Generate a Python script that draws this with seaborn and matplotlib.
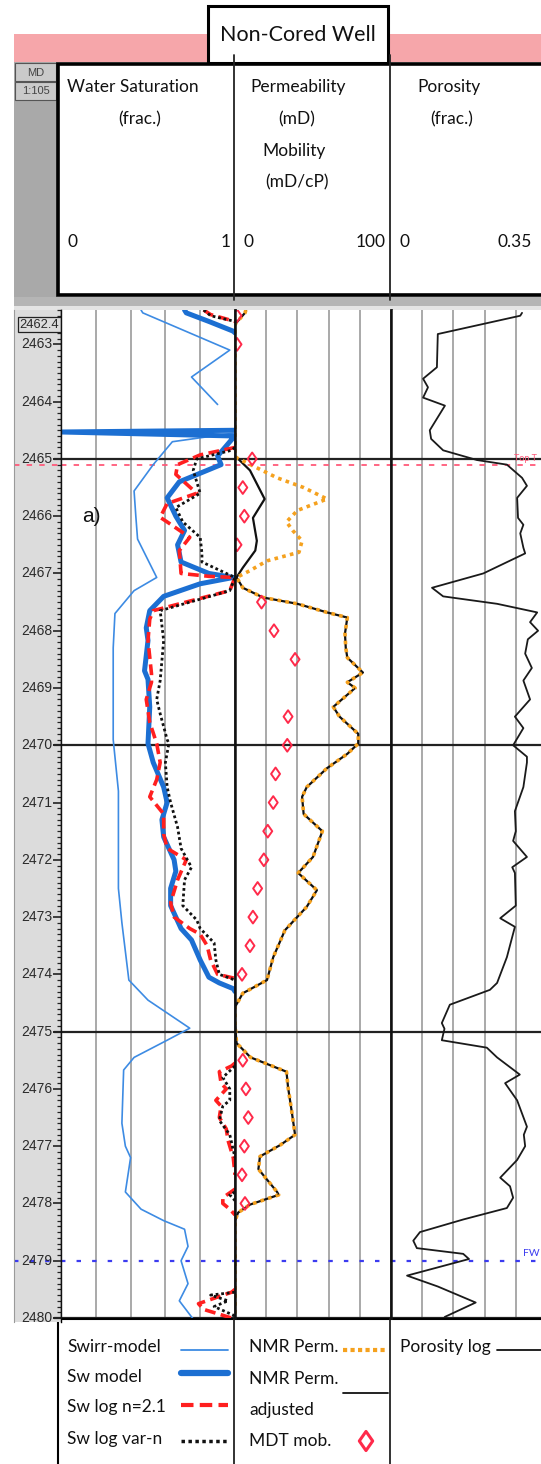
import numpy as np
import pandas as pd
import matplotlib
matplotlib.use("Agg")
import matplotlib.pyplot as plt
import matplotlib.transforms as mtransforms
from matplotlib.patches import Rectangle
from matplotlib.path import Path
from matplotlib.ticker import MultipleLocator
import seaborn as sns

# ---------------- data ----------------
# Swirr-model (thin blue), two segments
swirr_a_depth = [2462.40, 2462.45, 2463.10, 2463.57, 2464.05]
swirr_a_val = [0.46, 0.47, 0.97, 0.75, 0.90]
swirr_b_depth = [2464.55, 2464.70, 2465.10, 2465.56, 2466.00, 2466.40, 2467.07, 2467.30, 2467.70,
                 2468.30, 2469.90, 2470.80, 2472.50, 2473.10, 2474.10, 2474.45, 2474.94, 2475.15,
                 2475.45, 2475.67, 2476.60, 2477.00, 2477.20, 2477.80, 2478.10, 2478.30, 2478.45,
                 2478.75, 2479.00, 2479.40, 2479.70, 2480.10]
swirr_b_val = [0.99, 0.64, 0.53, 0.42, 0.43, 0.44, 0.55, 0.42, 0.31,
               0.30, 0.30, 0.33, 0.33, 0.35, 0.39, 0.50, 0.74, 0.61,
               0.42, 0.36, 0.35, 0.37, 0.40, 0.37, 0.46, 0.59, 0.71,
               0.73, 0.69, 0.73, 0.68, 0.78]

# Sw model (thick blue)
swm_depth = [2462.40, 2462.45, 2462.60, 2462.77, 2462.80, 2464.50, 2464.53, 2464.60, 2464.63,
             2464.95, 2465.10, 2465.40, 2465.68, 2466.00, 2466.25, 2466.50, 2466.80, 2467.00,
             2467.07, 2467.18, 2467.40, 2467.65, 2467.95, 2468.17, 2468.70, 2468.85, 2469.33,
             2469.97, 2470.30, 2470.73, 2471.00, 2471.30, 2471.60, 2472.00, 2472.20, 2472.50,
             2472.80, 2473.20, 2473.40, 2473.75, 2474.05, 2474.15, 2474.25, 2474.30, 2480.00]
swm_val = [0.71, 0.72, 0.85, 0.99, 1.00, 1.00, 0.00, 1.00, 0.99,
           0.90, 0.92, 0.68, 0.61, 0.66, 0.71, 0.67, 0.69, 0.85,
           0.99, 0.80, 0.59, 0.51, 0.49, 0.50, 0.48, 0.50, 0.51,
           0.50, 0.53, 0.59, 0.61, 0.58, 0.59, 0.65, 0.66, 0.63,
           0.63, 0.69, 0.75, 0.80, 0.85, 0.91, 0.99, 1.00, 1.00]

# Sw log n=2.1 (red dashed)
swn_depth = [2462.40, 2462.48, 2462.60, 2464.80, 2464.93, 2465.10, 2465.27, 2465.60, 2465.78,
             2466.02, 2466.10, 2466.37, 2466.60, 2467.00, 2467.05, 2467.07, 2467.30, 2467.65,
             2467.80, 2468.17, 2468.75, 2468.90, 2469.20, 2469.60, 2469.97, 2470.30, 2470.60,
             2470.90, 2471.20, 2471.55, 2471.80, 2472.00, 2472.35, 2472.75, 2473.00, 2473.20,
             2473.30, 2473.50, 2473.75, 2474.00, 2474.07, 2475.55, 2475.60, 2475.70, 2475.90,
             2476.00, 2476.20, 2476.30, 2476.50, 2476.70, 2476.90, 2477.20, 2477.50, 2477.75,
             2477.90, 2478.00, 2478.10, 2478.20, 2479.50, 2479.55, 2479.75, 2479.85, 2480.00]
swn_val = [0.82, 0.86, 1.00, 1.00, 0.80, 0.67, 0.66, 0.78, 0.61,
           0.57, 0.61, 0.74, 0.68, 0.69, 0.85, 1.00, 0.97, 0.53,
           0.51, 0.50, 0.52, 0.52, 0.49, 0.51, 0.55, 0.57, 0.55,
           0.51, 0.59, 0.59, 0.61, 0.72, 0.67, 0.63, 0.65, 0.74,
           0.80, 0.84, 0.86, 0.90, 1.00, 1.00, 0.98, 0.91, 0.92,
           0.95, 0.89, 0.92, 0.91, 0.95, 0.96, 0.99, 1.00, 1.00,
           0.93, 0.93, 0.97, 1.00, 1.00, 0.98, 0.79, 0.82, 0.98]

# Sw log var-n (black dotted)
swv_depth = [2462.40, 2462.50, 2462.60, 2464.80, 2464.85, 2465.00, 2465.20, 2465.60, 2465.85,
             2466.10, 2466.37, 2466.65, 2466.80, 2467.07, 2467.30, 2467.65, 2468.17, 2468.87,
             2469.20, 2469.45, 2469.90, 2469.97, 2470.30, 2470.73, 2471.00, 2471.43, 2471.80,
             2472.13, 2472.35, 2472.80, 2473.05, 2473.20, 2473.45, 2473.75, 2474.00, 2474.10,
             2475.60, 2475.80, 2476.00, 2476.20, 2476.30, 2476.55, 2476.80, 2477.20, 2477.80,
             2477.85, 2477.95, 2479.55, 2479.60, 2479.70, 2479.80, 2479.95, 2480.00]
swv_val = [0.82, 0.86, 1.00, 1.00, 0.98, 0.78, 0.76, 0.80, 0.66,
           0.70, 0.80, 0.81, 0.81, 1.00, 0.97, 0.57, 0.59, 0.57,
           0.55, 0.57, 0.61, 0.62, 0.60, 0.61, 0.63, 0.67, 0.69,
           0.75, 0.71, 0.70, 0.78, 0.80, 0.88, 0.89, 0.91, 1.00,
           1.00, 0.93, 0.97, 0.97, 0.93, 0.91, 0.97, 1.00, 1.00,
           0.97, 1.00, 1.00, 0.86, 0.96, 0.88, 0.99, 1.00]

# NMR Perm. adjusted (black thin)
perm_adj_depth = [2462.40, 2462.45, 2462.65, 2464.95, 2464.98, 2465.20, 2465.70, 2466.03, 2466.43,
                  2466.60, 2466.90, 2467.07, 2467.25, 2467.42, 2467.53, 2467.68, 2467.77, 2468.05,
                  2468.30, 2468.47, 2468.73, 2468.90, 2469.00, 2469.33, 2469.50, 2469.80, 2469.97,
                  2470.15, 2470.40, 2470.73, 2470.90, 2471.20, 2471.50, 2471.95, 2472.23, 2472.53,
                  2472.82, 2473.23, 2473.70, 2474.10, 2474.33, 2474.57, 2474.85, 2475.20, 2475.45,
                  2475.70, 2475.97, 2476.42, 2476.80, 2476.98, 2477.18, 2477.40, 2477.80, 2477.85,
                  2478.02, 2478.16, 2478.30, 2480.00]
perm_adj_val = [7.0, 6.4, 0.0, 0.0, 1.3, 9.6, 19.0, 11.5, 14.0,
                13.0, 5.0, 1.0, 5.0, 18.0, 40.0, 59.0, 72.0, 70.5,
                71.0, 72.0, 82.0, 72.0, 77.0, 63.0, 67.0, 79.0, 79.0,
                72.0, 59.0, 46.0, 43.0, 44.0, 56.0, 50.0, 40.5, 52.5,
                46.0, 32.0, 24.5, 20.5, 5.0, 0.0, 0.0, 1.0, 10.0,
                33.0, 34.0, 36.5, 38.5, 29.0, 16.0, 15.0, 27.0, 28.0,
                9.6, 2.0, 0.0, 0.0]

# NMR Perm. (orange dotted): differs from adjusted only between 2465 and 2467
perm_nmr_top_depth = [2462.40, 2462.45, 2462.65, 2464.95, 2464.98, 2465.33, 2465.50, 2465.70, 2465.90,
                      2466.10, 2466.25, 2466.43, 2466.63, 2466.78, 2466.95, 2467.07]
perm_nmr_top_val = [7.0, 6.4, 0.0, 0.0, 1.0, 27.0, 44.0, 59.0, 40.0,
                    33.0, 37.0, 43.0, 41.0, 20.5, 9.6, 1.0]

# MDT mobility (open diamonds)
mdt_depth = [2462.5, 2463.0, 2465.0, 2465.5, 2466.0, 2466.5, 2467.5, 2468.0, 2468.5, 2469.5,
             2470.0, 2470.5, 2471.0, 2471.5, 2472.0, 2472.5, 2473.0, 2473.5, 2474.0, 2475.5,
             2476.0, 2476.5, 2477.0, 2477.5, 2478.0]
mdt_val = [1.3, 1.3, 11.0, 5.0, 6.0, 1.3, 17.0, 25.0, 38.5, 34.0,
           33.5, 26.0, 24.5, 21.0, 18.5, 14.5, 11.5, 9.6, 4.5, 5.0,
           7.0, 8.5, 6.0, 4.5, 6.4]

# Porosity log
por_depth = [2462.45, 2462.50, 2462.82, 2463.40, 2463.60, 2463.75, 2463.93, 2464.07, 2464.50,
             2464.65, 2464.85, 2465.02, 2465.10, 2465.33, 2465.47, 2465.68, 2466.03, 2466.15,
             2466.30, 2466.55, 2466.65, 2467.00, 2467.25, 2467.40, 2467.53, 2467.68, 2467.85,
             2468.00, 2468.15, 2468.40, 2468.65, 2468.87, 2469.20, 2469.50, 2469.70, 2470.00,
             2470.20, 2470.30, 2470.73, 2471.15, 2471.50, 2471.67, 2471.95, 2472.13, 2472.23,
             2472.80, 2473.02, 2473.17, 2473.70, 2474.15, 2474.27, 2474.53, 2474.85, 2474.95,
             2475.15, 2475.28, 2475.45, 2475.75, 2475.90, 2476.20, 2476.66, 2476.80, 2477.00,
             2477.24, 2477.55, 2477.70, 2477.90, 2478.08, 2478.28, 2478.50, 2478.65, 2478.78,
             2478.88, 2478.97, 2479.26, 2479.45, 2479.73, 2479.98, 2480.10]
por_val = [0.294, 0.290, 0.105, 0.103, 0.072, 0.083, 0.072, 0.121, 0.087,
           0.090, 0.117, 0.193, 0.260, 0.294, 0.305, 0.283, 0.285, 0.297,
           0.290, 0.297, 0.301, 0.207, 0.092, 0.117, 0.238, 0.328, 0.312,
           0.330, 0.307, 0.301, 0.316, 0.297, 0.312, 0.278, 0.297, 0.274,
           0.305, 0.305, 0.297, 0.278, 0.280, 0.274, 0.305, 0.272, 0.278,
           0.280, 0.245, 0.278, 0.260, 0.238, 0.222, 0.132, 0.114, 0.120,
           0.114, 0.215, 0.238, 0.289, 0.256, 0.283, 0.305, 0.298, 0.301,
           0.283, 0.245, 0.267, 0.274, 0.260, 0.162, 0.065, 0.050, 0.058,
           0.162, 0.175, 0.036, 0.105, 0.190, 0.121, 0.110]

md_labels = ["2462.4"] + [str(d) for d in range(2463, 2481)]
md_major = list(range(2463, 2481))
depth_lines = [2465, 2470, 2475, 2480]
top_marker_depth = 2465.1
fwl_depth = 2479.0

sw_range = (0, 1)
perm_range = (0, 100)
por_range = (0, 0.35)
depth_top, depth_bot = 2462.4, 2480.0


def split_at_edge(depth, val, edge):
    """Break a curve wherever two consecutive samples both sit on the track edge."""
    df = pd.DataFrame({"depth": depth, "val": val})
    on_edge = pd.Series(np.isclose(df["val"].to_numpy(), edge))
    brk = on_edge & on_edge.shift(1, fill_value=False)
    df["seg"] = brk.cumsum().to_numpy()
    off = ~on_edge
    keep = off.groupby(df["seg"]).transform("any").to_numpy()
    return df[keep].reset_index(drop=True)


# ---------------- style ----------------
sns.set_style("white")
plt.rcParams["font.family"] = ["Lato", "DejaVu Sans"]

W, H = 541, 1464
fig = plt.figure(figsize=(W / 100, H / 100), dpi=100)
fig.patch.set_facecolor("white")


def px_axes(x0, y0, x1, y1, **kw):
    return fig.add_axes([x0 / W, 1 - y1 / H, (x1 - x0) / W, (y1 - y0) / H], **kw)


# overlay for header / legend decoration (pixel coordinates)
ov = px_axes(0, 0, W, H, zorder=0)
ov.set_xlim(0, W)
ov.set_ylim(H, 0)
ov.axis("off")

Y0, Y1 = 310, 1318
X_MD0, X_T1, X_T2, X_T3, X_T4 = 14, 61, 235, 391, 547

# pink band and title
ov.add_patch(Rectangle((14, 34), W, 28, facecolor="#f6a6aa", edgecolor="none"))
ov.add_patch(Rectangle((208, 6), 180, 57, facecolor="white", edgecolor="black", lw=2.2, zorder=3))
ov.text(298, 35, "Non-Cored Well", ha="center", va="center", fontsize=15.5, color="#111", zorder=4)

# header left column
ov.add_patch(Rectangle((14, 62), 43, 235, facecolor="#a9a9a9", edgecolor="none"))
for (yy, lab) in [(63, "MD"), (82, "1:105")]:
    ov.add_patch(Rectangle((15, yy), 41, 18, facecolor="#cacaca", edgecolor="#555", lw=0.8))
    ov.text(35.5, yy + 9.5, lab, ha="center", va="center", fontsize=8,
            family=["Liberation Sans", "DejaVu Sans"], color="#444")

# header box
ov.add_patch(Rectangle((58, 64), 520, 231, facecolor="white", edgecolor="black", lw=2.6, zorder=2))
for xd in (233.5, 389.5):
    ov.plot([xd, xd], [55, 300], color="#222", lw=1.3, zorder=3)

# gray strip between header and tracks
ov.add_patch(Rectangle((14, 297), W, 10, facecolor="#b5b5b5", edgecolor="none"))
ov.add_patch(Rectangle((14, 306), W, 4, facecolor="#e4e4e4", edgecolor="none"))

hdr_kw = dict(ha="center", va="center", fontsize=12.5, color="#111", zorder=4)
ov.text(133, 87, "Water Saturation", **hdr_kw)
ov.text(140, 119, "(frac.)", **hdr_kw)
ov.text(298, 87, "Permeability", **hdr_kw)
ov.text(297, 119, "(mD)", **hdr_kw)
ov.text(294, 151, "Mobility", **hdr_kw)
ov.text(297, 182, "(mD/cP)", **hdr_kw)
ov.text(449, 87, "Porosity", **hdr_kw)
ov.text(452, 119, "(frac.)", **hdr_kw)
sc_kw = dict(va="center", fontsize=12.5, color="#111", zorder=4)
ov.text(67, 242, f"{sw_range[0]}", ha="left", **sc_kw)
ov.text(231, 242, f"{sw_range[1]}", ha="right", **sc_kw)
ov.text(244, 242, f"{perm_range[0]}", ha="left", **sc_kw)
ov.text(386, 242, f"{perm_range[1]}", ha="right", **sc_kw)
ov.text(399, 242, f"{por_range[0]}", ha="left", **sc_kw)
ov.text(532, 242, f"{por_range[1]}", ha="right", **sc_kw)

# legend box
ov.add_patch(Rectangle((58, 1319), 520, 160, facecolor="white", edgecolor="black", lw=1.5, zorder=1))
for xd in (234, 390):
    ov.plot([xd, xd], [1319, H], color="#222", lw=1.3, zorder=2)

leg_kw = dict(ha="left", va="center", fontsize=12.5, color="#111", zorder=4)
ov.text(67, 1347, "Swirr-model", **leg_kw)
ov.text(67, 1377, "Sw model", **leg_kw)
ov.text(67, 1407, "Sw log n=2.1", **leg_kw)
ov.text(67, 1439, "Sw log var-n", **leg_kw)
ov.text(249, 1347, "NMR Perm.", **leg_kw)
ov.text(249, 1379, "NMR Perm.", **leg_kw)
ov.text(249, 1410, "adjusted", **leg_kw)
ov.text(249, 1441, "MDT mob.", **leg_kw)
ov.text(400, 1347, "Porosity log", **leg_kw)

c_swirr = "#3d8be3"
c_swm = "#1c6fd2"
c_red = "#ff1f1f"
c_orange = "#f5a11e"
c_mdt = "#ff2a4a"

ov.plot([181, 228], [1350, 1350], color=c_swirr, lw=1.3, zorder=4)
ov.plot([181, 228], [1373, 1373], color=c_swm, lw=4.5, zorder=4)
ov.plot([181, 228], [1405, 1405], color=c_red, lw=3, ls=(0, (3, 1.5)), zorder=4)
ov.plot([181, 228], [1441, 1441], color="#111", lw=2.5, ls=(0, (1, 1)), zorder=4)
ov.plot([343, 388], [1350, 1350], color=c_orange, lw=3, ls=(0, (1, 0.8)), zorder=4)
ov.plot([343, 388], [1393, 1393], color="#111", lw=1.3, zorder=4)
ov.plot([497, 545], [1350, 1350], color="#111", lw=1.3, zorder=4)
diamond = Path([(0, 1), (0.7, 0), (0, -1), (-0.7, 0), (0, 1)],
               [Path.MOVETO, Path.LINETO, Path.LINETO, Path.LINETO, Path.CLOSEPOLY])
ov.scatter([366], [1441], marker=diamond, s=190, facecolors="none", edgecolors=c_mdt, linewidths=2.2, zorder=4)

# ---------------- MD column ----------------
axmd = px_axes(X_MD0, Y0, X_T1, Y1 + 4, zorder=2)
axmd.set_facecolor("#dcdcdc")
axmd.set_xlim(0, 1)
dpp = (depth_bot - depth_top) / (Y1 - Y0)
axmd.set_ylim(depth_bot + 4 * dpp, depth_top)
for s in ["top", "bottom"]:
    axmd.spines[s].set_visible(False)
axmd.spines["left"].set_color("#9a9a9a")
axmd.spines["right"].set_color("black")
axmd.spines["right"].set_linewidth(1.0)
axmd.set_xticks([])
axmd.yaxis.set_ticks_position("right")
axmd.set_yticks(md_major)
axmd.yaxis.set_minor_locator(MultipleLocator(0.1))
axmd.tick_params(axis="y", which="major", direction="in", length=6, width=1.2, color="#222",
                 labelright=False, labelleft=False)
axmd.tick_params(axis="y", which="minor", direction="in", length=3, width=0.9, color="#222")
tr = mtransforms.blended_transform_factory(axmd.transAxes, axmd.transData)
md_kw = dict(ha="right", va="center", family=["Liberation Sans", "DejaVu Sans"], color="#2a2a2a")
for d, lab in zip(md_major, md_labels[1:]):
    axmd.text(0.82, d, lab, transform=tr, fontsize=10, **md_kw)
axmd.text(0.96, depth_top + 0.26, md_labels[0], transform=tr, fontsize=9.3, **md_kw,
          bbox=dict(boxstyle="square,pad=0.12", facecolor="#dcdcdc", edgecolor="#222", lw=0.9))
for d in depth_lines:
    axmd.plot([0.85, 1.0], [d, d], transform=tr, color="#222", lw=1.6)
axmd.plot([0, 1], [top_marker_depth] * 2, transform=tr, color="#ff5a7a", lw=1.3, ls=(0, (3, 4)))
axmd.plot([0, 1], [fwl_depth] * 2, transform=tr, color="#3b3bf0", lw=1.6, ls=(0, (2, 5)))

# ---------------- tracks ----------------
def make_track(x0, x1, xr, ndiv=5):
    ax = px_axes(x0, Y0, x1, Y1, zorder=2)
    ax.set_facecolor("white")
    ax.set_xlim(*xr)
    ax.set_ylim(depth_bot, depth_top)
    ax.set_xticks([])
    ax.set_yticks([])
    ax.spines["top"].set_visible(False)
    ax.spines["bottom"].set_visible(False)
    for s in ["left", "right"]:
        ax.spines[s].set_color("#111")
        ax.spines[s].set_linewidth(1.8)
        ax.spines[s].set_zorder(10)
    for g in np.linspace(xr[0], xr[1], ndiv + 1)[1:-1]:
        ax.axvline(g, color="#a3a3a3", lw=1.3, zorder=0.5)
    for d in depth_lines:
        ax.axhline(d, color="#222", lw=1.6, zorder=1)
    ax.axhline(top_marker_depth, color="#ff5a7a", lw=1.3, ls=(0, (3, 4)), zorder=1)
    ax.axhline(fwl_depth, color="#3b3bf0", lw=1.6, ls=(0, (2, 5)), zorder=1)
    return ax


ax1 = make_track(X_T1, X_T2, sw_range)
ax2 = make_track(X_T2, X_T3, perm_range)
ax3 = make_track(X_T3, X_T4, por_range)
ax1.spines["left"].set_linewidth(1.0)

seg_kw = dict(x="val", y="depth", units="seg", orient="y", sort=False, estimator=None)
line_kw = dict(orient="y", sort=False, estimator=None)

sns.lineplot(x=swirr_a_val, y=swirr_a_depth, ax=ax1, color=c_swirr, linewidth=1.2, zorder=3, **line_kw)
sns.lineplot(x=swirr_b_val, y=swirr_b_depth, ax=ax1, color=c_swirr, linewidth=1.2, zorder=3, **line_kw)
sns.lineplot(data=split_at_edge(swm_depth, swm_val, 1.0), ax=ax1, color=c_swm, linewidth=3.6,
             zorder=4, **seg_kw)
sns.lineplot(data=split_at_edge(swn_depth, swn_val, 1.0), ax=ax1, color=c_red, linewidth=2.6,
             linestyle=(0, (3, 1.5)), zorder=5, **seg_kw)
sns.lineplot(data=split_at_edge(swv_depth, swv_val, 1.0), ax=ax1, color="#111", linewidth=2.0,
             linestyle=(0, (1, 1)), zorder=6, **seg_kw)

# orange NMR perm: top part + shared part from 2467.07 downward
split = perm_adj_depth.index(2467.07)
nmr_depth = perm_nmr_top_depth + perm_adj_depth[split + 1:]
nmr_val = perm_nmr_top_val + perm_adj_val[split + 1:]
sns.lineplot(x=perm_adj_val, y=perm_adj_depth, ax=ax2, color="#111", linewidth=1.6, zorder=3, **line_kw)
sns.lineplot(x=nmr_val, y=nmr_depth, ax=ax2, color=c_orange, linewidth=2.6, linestyle=(0, (1, 1.2)),
             zorder=4, **line_kw)
sns.scatterplot(x=mdt_val, y=mdt_depth, ax=ax2, marker=diamond, s=85, color=c_mdt, zorder=5)
coll = ax2.collections[-1]
coll.set_facecolor("none")
coll.set_edgecolor(c_mdt)
coll.set_linewidth(1.4)

sns.lineplot(x=por_val, y=por_depth, ax=ax3, color="#1a1a1a", linewidth=1.3, zorder=3, **line_kw)
ax3.text(0.277, top_marker_depth - 0.02, "Top T", fontsize=6.5, color="#ff5a7a", ha="left", va="bottom")
ax3.text(0.297, fwl_depth - 0.05, "FW", fontsize=7.5, color="#3b3bf0", ha="left", va="bottom")

for ax, xr in [(ax1, sw_range), (ax2, perm_range), (ax3, por_range)]:
    ax.set_xlabel("")
    ax.set_ylabel("")
    ax.set_xlim(*xr)
    ax.set_ylim(depth_bot, depth_top)
    if ax.get_legend() is not None:
        ax.get_legend().remove()

ax1.text(0.12, 2466.0, "a)", fontsize=15, family=["Liberation Sans", "DejaVu Sans"],
         ha="left", va="center", color="#111")

fig.savefig("out.png", dpi=100)
